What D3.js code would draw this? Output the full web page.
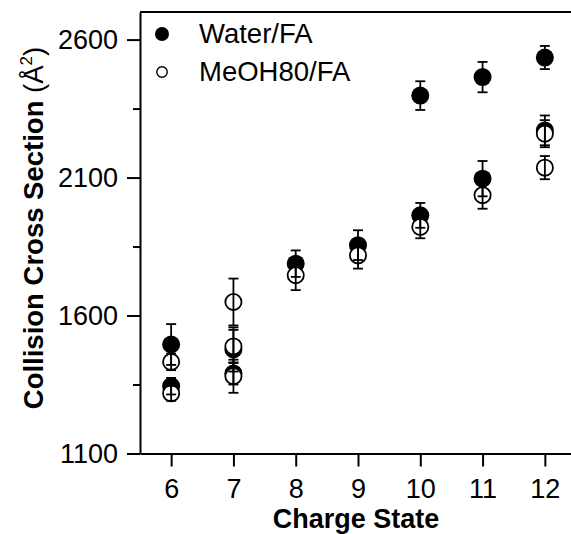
<!DOCTYPE html>
<html>
<head>
  <meta charset="utf-8">
  <script src="https://d3js.org/d3.v7.min.js"></script>
  <style>
    body { margin: 0; background: #fff; }
    svg { display: block; font-family: "Liberation Sans", Arial, sans-serif; }
    .axis path, .axis line { stroke: #000; stroke-width: 2; }
    .axis text { font-size: 27px; fill: #000; }
  </style>
</head>
<body>
<div id="plot"></div>
<script>
  // x categories and tick labels
  var charges = [6, 7, 8, 9, 10, 11, 12];
  var yMajor = [1100, 1600, 2100, 2600];
  var yMinor = [1350, 1850, 2350];

  // Water/FA (filled)
  var waterCharge = [6, 6, 7, 7, 8, 9, 10, 10, 11, 11, 12, 12];
  var waterCCS    = [1495, 1344, 1477, 1390, 1788, 1855, 2397, 1963, 2464, 2096, 2535, 2271];
  var waterErr    = [74, 30, 80, 40, 48, 54, 52, 45, 55, 64, 42, 54];

  // MeOH80/FA (open)
  var meohCharge = [6, 6, 7, 7, 7, 8, 9, 10, 11, 12, 12];
  var meohCCS    = [1432, 1318, 1649, 1488, 1380, 1746, 1818, 1921, 2036, 2259, 2136];
  var meohErr    = [30, 27, 85, 60, 60, 54, 48, 41, 49, 49, 42];

  var W = 571, H = 534;
  var mLeft = 140, mRight = 576, mTop = 12, mBottom = 453.5;

  var svg = d3.select("#plot").append("svg")
    .attr("width", W)
    .attr("height", H);

  var x = d3.scaleLinear().domain([5.5, 12.5]).range([mLeft, mRight]);
  var y = d3.scaleLinear().domain([1100, 2700]).range([mBottom, mTop]);

  // axes
  var xAxis = d3.axisBottom(x).tickValues(charges).tickFormat(d3.format("d"))
    .tickSize(13).tickPadding(12).tickSizeOuter(0);
  svg.append("g").attr("class", "x axis")
    .attr("transform", "translate(0," + mBottom + ")")
    .call(xAxis);

  var yAxis = d3.axisLeft(y).tickValues(yMajor).tickFormat(d3.format("d"))
    .tickSize(13).tickPadding(9).tickSizeOuter(0);
  svg.append("g").attr("class", "y axis")
    .attr("transform", "translate(" + mLeft + ",0)")
    .call(yAxis);

  svg.append("g").attr("class", "y axis minor")
    .attr("transform", "translate(" + mLeft + ",0)")
    .call(d3.axisLeft(y).tickValues(yMinor).tickSize(7).tickFormat("").tickSizeOuter(0))
    .select(".domain").remove();

  // top frame line
  svg.append("line")
    .attr("x1", mLeft).attr("x2", mRight)
    .attr("y1", y(2700)).attr("y2", y(2700))
    .attr("stroke", "#000").attr("stroke-width", 2);

  function rows(cs, vs, es) {
    return cs.map(function(c, i) { return {c: c, v: vs[i], e: es[i]}; });
  }
  var water = rows(waterCharge, waterCCS, waterErr);
  var meoh = rows(meohCharge, meohCCS, meohErr);

  var r = 9;
  // filled circles first, open ones on top
  svg.append("g").selectAll("circle").data(water).enter().append("circle")
    .attr("cx", function(d) { return x(d.c); })
    .attr("cy", function(d) { return y(d.v); })
    .attr("r", r)
    .attr("fill", "#000");

  svg.append("g").selectAll("circle").data(meoh).enter().append("circle")
    .attr("cx", function(d) { return x(d.c); })
    .attr("cy", function(d) { return y(d.v); })
    .attr("r", r - 0.9)
    .attr("fill", "#fff")
    .attr("stroke", "#000")
    .attr("stroke-width", 1.8);

  // error bars
  var cap = 5;
  var bars = svg.append("g").attr("stroke", "#000").attr("stroke-width", 1.8);
  water.concat(meoh).forEach(function(d) {
    var cx = x(d.c), y1 = y(d.v + d.e), y2 = y(d.v - d.e);
    bars.append("line").attr("x1", cx).attr("x2", cx).attr("y1", y1).attr("y2", y2);
    bars.append("line").attr("x1", cx - cap).attr("x2", cx + cap).attr("y1", y1).attr("y2", y1);
    bars.append("line").attr("x1", cx - cap).attr("x2", cx + cap).attr("y1", y2).attr("y2", y2);
  });

  // legend
  svg.append("circle").attr("cx", 162).attr("cy", 34).attr("r", 7).attr("fill", "#000");
  svg.append("circle").attr("cx", 162).attr("cy", 72).attr("r", 5.2)
    .attr("fill", "#fff").attr("stroke", "#000").attr("stroke-width", 1.4);
  svg.append("text").attr("x", 199).attr("y", 43).style("font-size", "27.5px").text("Water/FA");
  svg.append("text").attr("x", 199).attr("y", 81).style("font-size", "27.5px").text("MeOH80/FA");

  // axis titles
  svg.append("text")
    .attr("x", (mLeft + mRight) / 2 - 2)
    .attr("y", 528)
    .style("text-anchor", "middle")
    .style("font-size", "27px")
    .style("font-weight", "bold")
    .text("Charge State");

  var yl = svg.append("text")
    .attr("transform", "translate(43," + 228 + ") rotate(-90)")
    .style("text-anchor", "middle")
    .style("font-size", "27.5px");
  yl.append("tspan").style("font-weight", "bold").text("Collision Cross Section ");
  yl.append("tspan").text("(Å");
  yl.append("tspan").attr("dy", -11).style("font-size", "17px").text("2");
  yl.append("tspan").attr("dy", 11).text(")");
</script>
</body>
</html>
